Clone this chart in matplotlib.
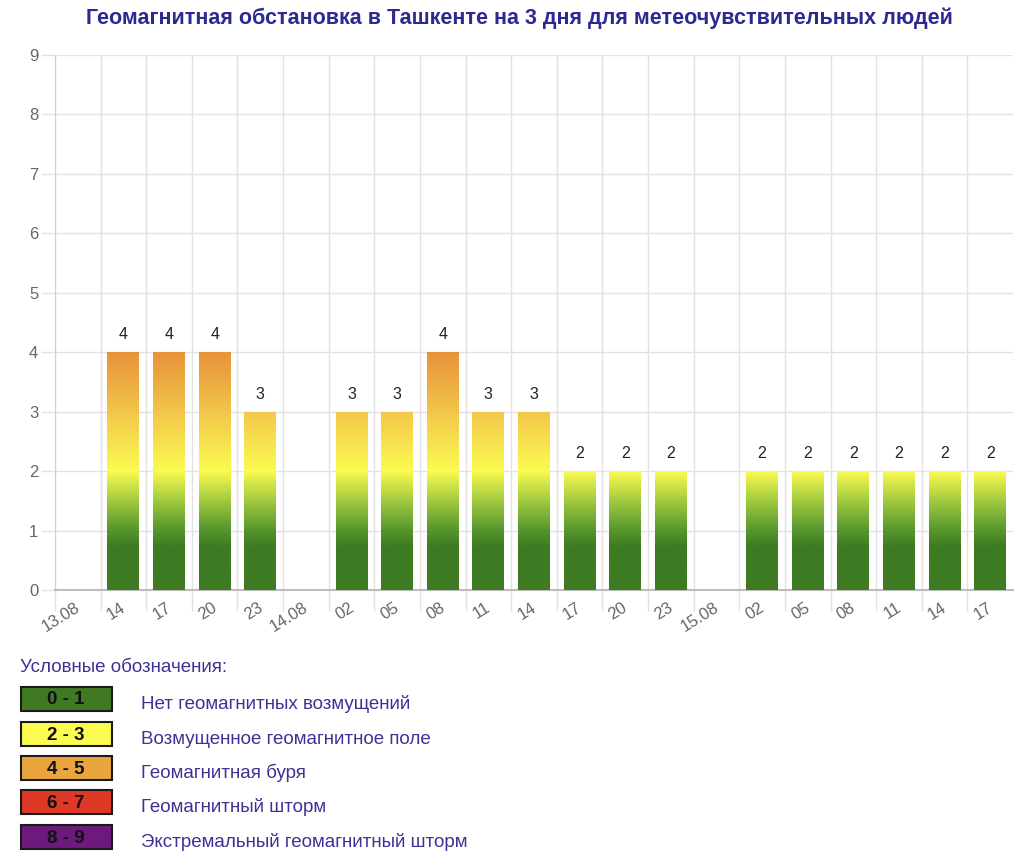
import numpy as np
import matplotlib
matplotlib.use("Agg")
import matplotlib.pyplot as plt
from matplotlib.colors import LinearSegmentedColormap, Normalize
from matplotlib.patches import Rectangle

plt.rcParams["font.family"] = ["Liberation Sans", "DejaVu Sans"]

# ─── Data ───
labels = ["13.08", "14", "17", "20", "23", "14.08", "02", "05", "08", "11", "14",
          "17", "20", "23", "15.08", "02", "05", "08", "11", "14", "17"]
values = [None, 4, 4, 4, 3, None, 3, 3, 4, 3, 3, 2, 2, 2, None, 2, 2, 2, 2, 2, 2]

legend_ranges = ["0 - 1", "2 - 3", "4 - 5", "6 - 7", "8 - 9"]
legend_names = ["Нет геомагнитных возмущений", "Возмущенное геомагнитное поле",
                "Геомагнитная буря", "Геомагнитный шторм", "Экстремальный геомагнитный шторм"]
legend_colors = ["#3f7a23", "#fbfb52", "#eba53f", "#e03826", "#6d1a7c"]

title = "Геомагнитная обстановка в Ташкенте на 3 дня для метеочувствительных людей"

# gradient by absolute Kp value (0..4)
grad = LinearSegmentedColormap.from_list("kp", [
    (0.0, "#3e7b22"), (0.18, "#3e7b22"), (0.26, "#5a9a2e"), (0.38, "#a6cc40"),
    (0.5, "#fbfb50"), (0.75, "#f2c64a"), (1.0, "#e8923a")])
norm = Normalize(0, 4)

W, H = 1024, 855
fig = plt.figure(figsize=(W / 100, H / 100), dpi=100)
ax = fig.add_axes([55 / W, (H - 590) / H, (1013 - 55) / W, (590 - 55) / H])

x = np.arange(len(labels))
heights = [v if v is not None else 0 for v in values]
bars = ax.bar(x, heights, width=0.7, color="none", edgecolor="none", zorder=3)

for bar, v in zip(bars, values):
    if v is None:
        continue
    x0 = bar.get_x()
    yy = np.linspace(v, 0, 200).reshape(-1, 1)
    im = ax.imshow(yy, cmap=grad, norm=norm, aspect="auto", interpolation="bicubic",
                   extent=[x0, x0 + bar.get_width(), 0, v], zorder=3)
    im.set_clip_path(bar)
    ax.text(bar.get_x() + bar.get_width() / 2, v + 0.17, str(v), ha="center", va="bottom",
            fontsize=11.5, color="#222222", zorder=4)

ax.set_xlim(-0.5, len(labels) - 0.5)
ax.set_ylim(0, 9)
ax.set_yticks(range(10))
ax.set_xticks(np.arange(-0.5, len(labels) - 0.5, 1.0))
ax.set_xticklabels([])
ax.tick_params(axis="x", length=15, color="#e2e2e2", width=1)
ax.tick_params(axis="y", length=10, color="#e2e2e2", width=1, labelsize=12,
               labelcolor="#666666", pad=2)
ax.grid(True, color="#e2e2e2", linewidth=1, zorder=0)
ax.set_axisbelow(True)
for s in ["top", "right"]:
    ax.spines[s].set_visible(False)
ax.spines["left"].set_color("#d0d0d0")
ax.spines["bottom"].set_color("#bdbdbd")
ax.spines["bottom"].set_linewidth(1.5)

for xi, lab in zip(x, labels):
    ax.text(xi - 0.07, -0.17, lab, rotation=32, ha="right", va="top", rotation_mode="anchor",
            fontsize=12, color="#666666")

fig.text(519 / W, 1 - 18 / H, title, ha="center", va="center", fontsize=15.5,
         fontweight="bold", color="#2c2a90")

# ─── Legend ───
fig.text(20 / W, 1 - 667 / H, "Условные обозначения:", ha="left", va="center",
         fontsize=13.5, color="#3b3296")
tops = [687, 722, 756, 790, 825]
for top, rng, name, col in zip(tops, legend_ranges, legend_names, legend_colors):
    fig.add_artist(Rectangle((21 / W, 1 - (top + 24) / H), 91 / W, 24 / H,
                             transform=fig.transFigure, facecolor=col,
                             edgecolor="#1a1a1a", linewidth=1.5))
    fig.text(66 / W, 1 - (top + 13) / H, rng, ha="center", va="center", fontsize=13.5,
             fontweight="bold", color="#111111")
    fig.text(141 / W, 1 - (top + 17) / H, name, ha="left", va="center", fontsize=13.5,
             color="#3b3296")

plt.savefig("out.png", dpi=100)
plt.close()
